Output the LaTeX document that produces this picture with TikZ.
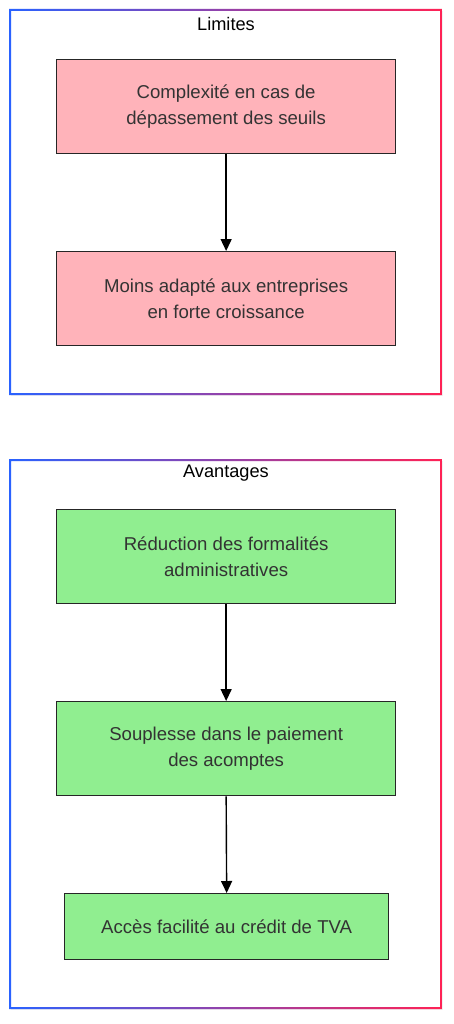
\documentclass[tikz,border=0pt]{standalone}
\usepackage{fontspec}
\setmainfont{Liberation Sans}
\usetikzlibrary{arrows.meta}
\definecolor{gblue}{HTML}{2962FF}
\definecolor{gred}{HTML}{FF2255}
\definecolor{pinkfill}{HTML}{FFB3BA}
\definecolor{greenfill}{HTML}{90EE90}
\definecolor{txt}{HTML}{333333}
\tikzset{
  box/.style={draw=black!85, line width=1.3pt, text=txt, align=center, font=\fontsize{18.6}{26}\selectfont, anchor=north west, inner sep=0pt},
  pinkbox/.style={box, fill=pinkfill},
  greenbox/.style={box, fill=greenfill},
  title/.style={font=\fontsize{18.2}{22}\selectfont, text=black},
  arr/.style={draw=black, line width=1.4pt, -{Triangle[length=12pt,width=11pt]}},
}
\begin{document}
\begin{tikzpicture}[x=1pt,y=-1pt]
\useasboundingbox[fill=white] (0,0) rectangle (454,1024);
% containers
\fill[black!6] (11,11) rectangle (443,396);
\fill[white] (10,10) rectangle (441,394);
\shade[left color=gblue, right color=gred, even odd rule] (9,9) rectangle (442,395) (11,11) rectangle (440,393);
\fill[black!6] (11,461) rectangle (443,1010);
\fill[white] (10,460) rectangle (441,1008);
\shade[left color=gblue, right color=gred, even odd rule] (9,459) rectangle (442,1009) (11,461) rectangle (440,1007);
\node[title] (t1) at (226,24) {Limites};
\node[title] (t2) at (226,473) {Avantages};
% nodes
\node[pinkbox, minimum width=339pt, minimum height=94pt] (n1) at (56,59) {Complexité en cas de\\dépassement des seuils};
\node[pinkbox, minimum width=339pt, minimum height=94pt] (n2) at (56,251) {Moins adapté aux entreprises\\en forte croissance};
\node[greenbox, minimum width=339pt, minimum height=94pt] (n3) at (56,509) {Réduction des formalités\\administratives};
\node[greenbox, minimum width=339pt, minimum height=94pt] (n4) at (56,701) {Souplesse dans le paiement\\des acomptes};
\node[greenbox, minimum width=324pt, minimum height=66pt] (n5) at (64,893) {Accès facilité au crédit de TVA};
\draw[arr] (n1.south) -- (n2.north);
\draw[arr] (n3.south) -- (n4.north);
\draw[arr] (n4.south) -- (n5.north);
\end{tikzpicture}
\end{document}
